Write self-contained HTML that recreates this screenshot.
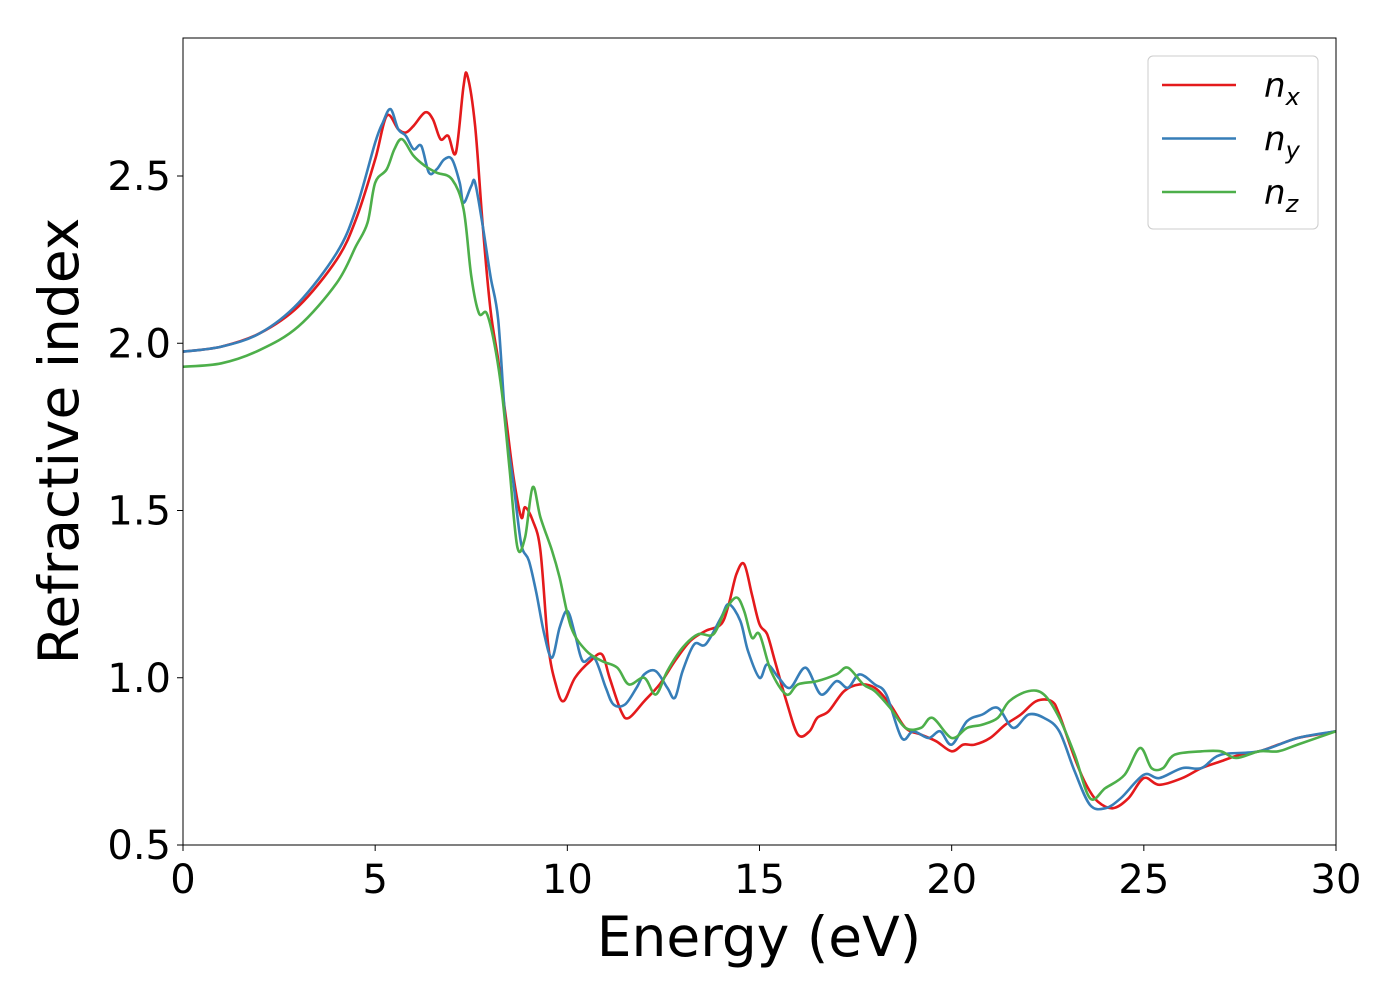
<!DOCTYPE html>
<html><head><meta charset="utf-8"><style>
body{margin:0;background:#fff;}
svg text{font-family:"DejaVu Sans","Liberation Sans",sans-serif;fill:#000;}
</style></head><body>
<svg id="chart" width="1400" height="1000" viewBox="0 0 1400 1000" xmlns="http://www.w3.org/2000/svg">
<g id="plot"></g>
</svg>
<script>
const xTicks=[0,5,10,15,20,25,30];
const yTicks=[0.5,1.0,1.5,2.0,2.5];
const yTickLabels=["0.5","1.0","1.5","2.0","2.5"];
const nxE=[0,1,2,3,4,4.5,5,5.3,5.6,5.8,6,6.3,6.5,6.7,6.9,7.1,7.3,7.4,7.6,7.8,8.0,8.2,8.4,8.6,8.8,8.9,9.1,9.3,9.5,9.7,9.9,10.2,10.6,10.9,11.1,11.4,11.6,12,12.4,12.8,13.2,13.6,14,14.2,14.4,14.6,14.8,15.0,15.2,15.4,15.7,16,16.3,16.5,16.8,17.2,17.6,18,18.4,18.8,19.2,19.6,20,20.3,20.6,21,21.4,21.8,22.2,22.6,22.8,23.2,23.5,23.8,24.2,24.6,25,25.4,26,26.5,27,27.5,28,28.5,29,29.5,30];
const nxV=[1.975,1.99,2.03,2.11,2.25,2.37,2.55,2.68,2.64,2.63,2.65,2.69,2.67,2.61,2.62,2.57,2.77,2.80,2.65,2.35,2.10,1.95,1.78,1.60,1.48,1.51,1.47,1.38,1.10,0.98,0.93,1.0,1.05,1.07,1.0,0.9,0.88,0.93,0.98,1.05,1.11,1.14,1.16,1.22,1.31,1.34,1.25,1.16,1.13,1.05,0.93,0.83,0.84,0.88,0.90,0.96,0.98,0.97,0.92,0.85,0.83,0.81,0.78,0.80,0.80,0.82,0.86,0.89,0.93,0.93,0.89,0.76,0.68,0.63,0.61,0.64,0.70,0.68,0.70,0.73,0.75,0.77,0.78,0.80,0.82,0.83,0.84];
const nyE=[0,1,2,3,4,4.5,5,5.2,5.4,5.6,5.8,6.0,6.2,6.4,6.6,6.8,7.0,7.2,7.3,7.5,7.6,7.8,8.0,8.2,8.4,8.6,8.8,9.0,9.2,9.4,9.6,9.8,10,10.2,10.4,10.7,11,11.2,11.5,11.8,12,12.3,12.6,12.8,13,13.3,13.6,14,14.2,14.5,14.7,15.0,15.2,15.5,15.8,16.2,16.6,17,17.3,17.6,18,18.3,18.7,19,19.4,19.7,20,20.4,20.8,21.2,21.6,22,22.4,22.8,23.2,23.6,24,24.4,25,25.4,26,26.5,27,28,29,30];
const nyV=[1.975,1.99,2.03,2.12,2.27,2.40,2.60,2.66,2.70,2.64,2.62,2.58,2.59,2.51,2.52,2.55,2.55,2.48,2.42,2.47,2.48,2.35,2.20,2.07,1.75,1.58,1.40,1.35,1.25,1.13,1.06,1.15,1.20,1.13,1.05,1.06,0.97,0.92,0.92,0.97,1.01,1.02,0.97,0.94,1.02,1.10,1.10,1.18,1.22,1.17,1.08,1.00,1.04,1.00,0.97,1.03,0.95,0.99,0.97,1.01,0.98,0.95,0.82,0.84,0.82,0.84,0.80,0.87,0.89,0.91,0.85,0.89,0.88,0.84,0.72,0.62,0.61,0.64,0.71,0.70,0.73,0.73,0.77,0.78,0.82,0.84];
const nzE=[0,1,2,3,4,4.5,4.8,5.0,5.3,5.5,5.7,6.0,6.3,6.6,7.0,7.3,7.5,7.7,7.9,8.1,8.3,8.5,8.7,8.9,9.1,9.3,9.6,9.8,10.1,10.5,10.9,11.3,11.6,12,12.3,12.6,13,13.4,13.8,14.1,14.4,14.6,14.8,15,15.3,15.7,16,16.5,17,17.3,17.7,18,18.4,18.8,19.2,19.5,20,20.4,20.8,21.2,21.5,22,22.4,22.8,23.2,23.6,24,24.5,24.9,25.2,25.5,25.8,26.5,27,27.4,28,28.5,29,30];
const nzV=[1.93,1.94,1.98,2.05,2.18,2.29,2.36,2.48,2.52,2.58,2.61,2.56,2.53,2.51,2.49,2.40,2.20,2.09,2.09,2.0,1.85,1.62,1.39,1.42,1.57,1.48,1.38,1.30,1.15,1.08,1.05,1.03,0.98,1.00,0.95,1.02,1.09,1.13,1.13,1.20,1.24,1.20,1.12,1.13,1.02,0.95,0.98,0.99,1.01,1.03,0.98,0.96,0.91,0.85,0.85,0.88,0.82,0.85,0.86,0.88,0.93,0.96,0.95,0.88,0.77,0.64,0.67,0.71,0.79,0.73,0.73,0.77,0.78,0.78,0.76,0.78,0.78,0.80,0.84];

const X0=183,X1=1336,Y0=38,Y1=845,yMin=0.5,yMax=0.5+(845-38)/334.5;
const sx=v=>X0+(v/30)*(X1-X0);
const sy=v=>Y1-(v-yMin)/(yMax-yMin)*(Y1-Y0);
const NS="http://www.w3.org/2000/svg";
const svg=document.getElementById('chart');
function mk(tag,attrs,parent){const e=document.createElementNS(NS,tag);for(const k in attrs)e.setAttribute(k,attrs[k]);(parent||svg).appendChild(e);return e;}
function smooth(E,V){
  const p=E.map((e,i)=>[sx(e),sy(V[i])]);
  let d="M"+p[0][0].toFixed(1)+","+p[0][1].toFixed(1);
  for(let i=0;i<p.length-1;i++){
    const a=p[i-1]||p[i],b=p[i],c=p[i+1],n=p[i+2]||c;
    const c1=[b[0]+(c[0]-a[0])/6,b[1]+(c[1]-a[1])/6],c2=[c[0]-(n[0]-b[0])/6,c[1]-(n[1]-b[1])/6];
    d+=" C"+c1.map(v=>v.toFixed(1))+" "+c2.map(v=>v.toFixed(1))+" "+c[0].toFixed(1)+","+c[1].toFixed(1);
  }
  return d;
}
const plot=document.getElementById('plot');
mk('clipPath',{id:'clip'},svg).appendChild(Object.assign(document.createElementNS(NS,'rect'),{}));
document.querySelector('#clip rect').setAttribute('x',X0);document.querySelector('#clip rect').setAttribute('y',Y0);
document.querySelector('#clip rect').setAttribute('width',X1-X0);document.querySelector('#clip rect').setAttribute('height',Y1-Y0);
const series=[["series-nx",nxE,nxV,"#e41a1c"],["series-ny",nyE,nyV,"#377eb8"],["series-nz",nzE,nzV,"#4daf4a"]];
series.forEach(s=>{
  const el=mk('path',{d:smooth(s[1],s[2]),fill:'none',stroke:s[3],'stroke-width':2.6,'stroke-linejoin':'round','clip-path':'url(#clip)'},plot);
  
  
});
const frame=mk('rect',{x:X0,y:Y0,width:X1-X0,height:Y1-Y0,fill:'none',stroke:'#000','stroke-width':1});


xTicks.forEach(t=>{
  const tk=mk('line',{x1:sx(t),x2:sx(t),y1:Y1,y2:Y1+6,stroke:'#000'});
  
  
  const tl=mk('text',{x:sx(t),y:Y1+48,'font-size':40,'text-anchor':'middle'});
  tl.textContent=String(t);
  
  
});
yTicks.forEach((t,i)=>{
  const tk=mk('line',{x1:X0-6,x2:X0,y1:sy(t),y2:sy(t),stroke:'#000'});
  
  
  const tl=mk('text',{x:X0-12,y:sy(t)+14,'font-size':40,'text-anchor':'end'});
  tl.textContent=yTickLabels[i];
  
  
});
const xt=mk('text',{x:759,y:956,'font-size':55,'text-anchor':'middle'});
xt.textContent="Energy (eV)";


const yt=mk('text',{x:0,y:0,'font-size':55,'text-anchor':'middle',transform:'translate(78,441) rotate(-90)'});
yt.textContent="Refractive index";


const lg=mk('g',{});


mk('rect',{x:1148,y:56,width:170,height:173,rx:5,fill:'#fff','fill-opacity':0.8,stroke:'#ccc','stroke-width':1},lg);
const legendSubs=["x","y","z"];
series.forEach((s,i)=>{
  const y=85+i*53.5;
  const ln=mk('line',{x1:1162,x2:1236,y1:y,y2:y,stroke:s[3],'stroke-width':2.6},lg);
  
  
  const tx=mk('text',{x:1264,y:y+12,'font-size':34,'font-style':'italic'},lg);
  
  
  tx.innerHTML='n<tspan font-size="24" dy="8">'+legendSubs[i]+'</tspan>';
});
</script>
</body></html>
